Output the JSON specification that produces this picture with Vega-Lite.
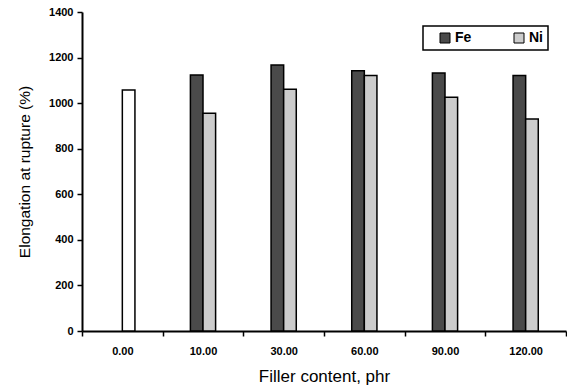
{
  "$schema": "https://vega.github.io/schema/vega-lite/v6.json",
  "width": 484,
  "height": 319,
  "autosize": "none",
  "padding": {"left": 82, "top": 12, "right": 1, "bottom": 59},
  "background": "white",
  "config": {
    "view": {"stroke": null},
    "font": "Liberation Sans"
  },
  "datasets": {
    "filled": [
      {"content": "10.00", "filler": "Fe", "elongation": 1124},
      {"content": "10.00", "filler": "Ni", "elongation": 956},
      {"content": "30.00", "filler": "Fe", "elongation": 1167},
      {"content": "30.00", "filler": "Ni", "elongation": 1061},
      {"content": "60.00", "filler": "Fe", "elongation": 1142},
      {"content": "60.00", "filler": "Ni", "elongation": 1121},
      {"content": "90.00", "filler": "Fe", "elongation": 1132},
      {"content": "90.00", "filler": "Ni", "elongation": 1026},
      {"content": "120.00", "filler": "Fe", "elongation": 1121},
      {"content": "120.00", "filler": "Ni", "elongation": 930}
    ],
    "control": [
      {"content": "0.00", "filler": "Ni", "elongation": 1058}
    ]
  },
  "encoding": {
    "x": {
      "field": "content",
      "type": "nominal",
      "sort": ["0.00", "10.00", "30.00", "60.00", "90.00", "120.00"],
      "scale": {"domain": ["0.00", "10.00", "30.00", "60.00", "90.00", "120.00"], "paddingInner": 0, "paddingOuter": 0},
      "axis": {
        "title": "Filler content, phr",
        "titleFont": "Liberation Sans",
        "titleFontSize": 17,
        "titleFontWeight": "normal",
        "titleColor": "black",
        "titlePadding": 12,
        "labelAngle": 0,
        "labelFont": "Liberation Sans",
        "labelFontSize": 11,
        "labelFontWeight": "bold",
        "labelColor": "black",
        "labelPadding": 9,
        "tickBand": "extent",
        "tickSize": 5,
        "tickColor": "black",
        "tickWidth": 1.5,
        "domainColor": "black",
        "domainWidth": 2,
        "grid": false
      }
    },
    "xOffset": {
      "field": "filler",
      "type": "nominal",
      "scale": {"domain": ["padA", "padB", "Fe", "Ni", "padC", "padD"], "paddingInner": 0, "paddingOuter": 0.2}
    },
    "y": {
      "field": "elongation",
      "type": "quantitative",
      "scale": {"domain": [0, 1400], "nice": false},
      "axis": {
        "title": "Elongation at rupture (%)",
        "titleFont": "Liberation Sans",
        "titleFontSize": 15.5,
        "titleFontWeight": "normal",
        "titleColor": "black",
        "titlePadding": 16,
        "values": [0, 200, 400, 600, 800, 1000, 1200, 1400],
        "format": "d",
        "labelFont": "Liberation Sans",
        "labelFontSize": 11,
        "labelFontWeight": "bold",
        "labelColor": "black",
        "labelPadding": 4,
        "tickSize": 5,
        "tickColor": "black",
        "tickWidth": 1.5,
        "domainColor": "black",
        "domainWidth": 2,
        "grid": false
      }
    }
  },
  "layer": [
    {
      "data": {"name": "filled"},
      "mark": {"type": "bar", "stroke": "black", "strokeWidth": 1.5},
      "encoding": {
        "fill": {
          "field": "filler",
          "type": "nominal",
          "scale": {"domain": ["Fe", "Ni"], "range": ["#4a4a4a", "#cccccc"]},
          "legend": {
            "title": null,
            "orient": "none",
            "legendX": 341,
            "legendY": 14,
            "direction": "horizontal",
            "columns": 2,
            "columnPadding": 30,
            "padding": 5,
            "strokeColor": "black",
            "fillColor": "white",
            "symbolType": "square",
            "symbolSize": 100,
            "symbolOffset": 10,
            "symbolStrokeColor": "black",
            "symbolStrokeWidth": 1,
            "labelFont": "Liberation Sans",
            "labelFontSize": 14,
            "labelFontWeight": "bold",
            "labelColor": "black",
            "labelOffset": 3,
            "encode": {"legend": {"update": {"strokeWidth": {"value": 1.5}}}}
          }
        }
      }
    },
    {
      "data": {"name": "control"},
      "mark": {"type": "bar", "fill": "white", "stroke": "black", "strokeWidth": 1.5}
    }
  ]
}
